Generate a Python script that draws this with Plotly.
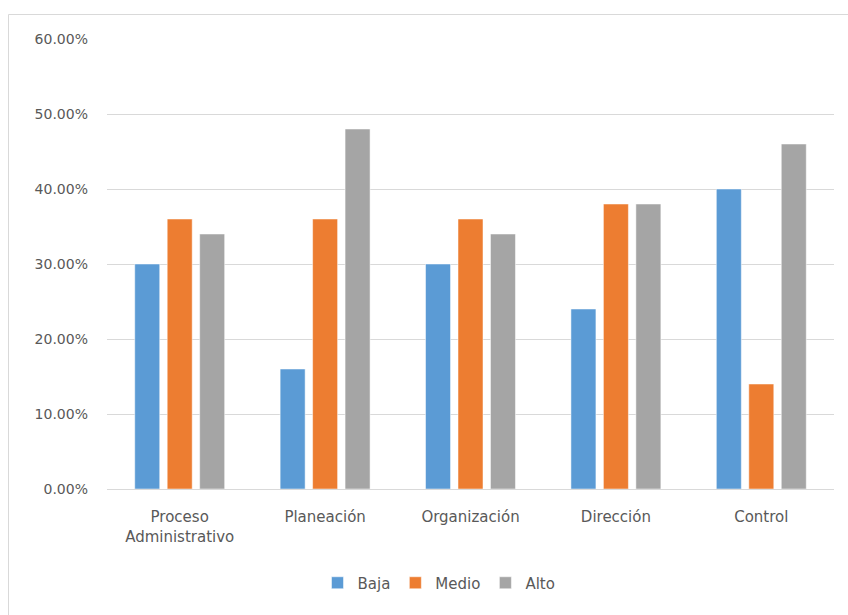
import plotly.graph_objects as go

categories = ["Proceso<br>Administrativo", "Planeación", "Organización", "Dirección", "Control"]
baja = [0.30, 0.16, 0.30, 0.24, 0.40]
medio = [0.36, 0.36, 0.36, 0.38, 0.14]
alto = [0.34, 0.48, 0.34, 0.38, 0.46]
series_names = ["Baja", "Medio", "Alto"]
colors = ["#5B9BD5", "#ED7D31", "#A5A5A5"]
tick_vals = [0, 0.1, 0.2, 0.3, 0.4, 0.5, 0.6]
tick_text = ["0.00%", "10.00%", "20.00%", "30.00%", "40.00%", "50.00%", "60.00%"]

W, H = 848, 615
L, R, T, B = 107, 14, 39, 126
pw, ph = W - L - R, H - T - B

fig = go.Figure()
for name, vals, col in zip(series_names, [baja, medio, alto], colors):
    fig.add_trace(go.Bar(x=categories, y=vals, name=name,
                         marker=dict(color=col, line=dict(color="white", width=0.5))))

font_family = "DejaVu Sans"
gray = "#595959"
fig.update_layout(
    width=W, height=H,
    margin=dict(l=L, r=R, t=T, b=B),
    paper_bgcolor="white", plot_bgcolor="white",
    barmode="group", bargap=0.33, bargroupgap=0.23,
    font=dict(family=font_family, size=14, color=gray),
    showlegend=True,
    legend=dict(orientation="h", x=(439 - L) / pw, xanchor="center",
                y=(T + ph - 583) / ph, yanchor="middle",
                font=dict(size=15, color=gray), itemwidth=30,
                traceorder="normal"),
    xaxis=dict(showgrid=False, showline=False, ticks="",
               tickfont=dict(size=15, color=gray), ticklabelstandoff=17),
    yaxis=dict(range=[0, 0.6], tickvals=tick_vals, ticktext=tick_text,
               showgrid=True, gridcolor="#D9D9D9", gridwidth=1,
               zeroline=True, zerolinecolor="#D9D9D9", zerolinewidth=1,
               showline=False, ticks="", ticklabelstandoff=18,
               tickfont=dict(size=14, color=gray)),
)

# chart-area border (cropped at right and bottom)
fig.add_shape(type="rect", xref="paper", yref="paper",
              x0=(8.5 - L) / pw, x1=(W + 20 - L) / pw,
              y0=(T + ph - (H + 20)) / ph, y1=(T + ph - 14.5) / ph,
              line=dict(color="#D9D9D9", width=1), layer="below")

fig.write_html("out.html")
